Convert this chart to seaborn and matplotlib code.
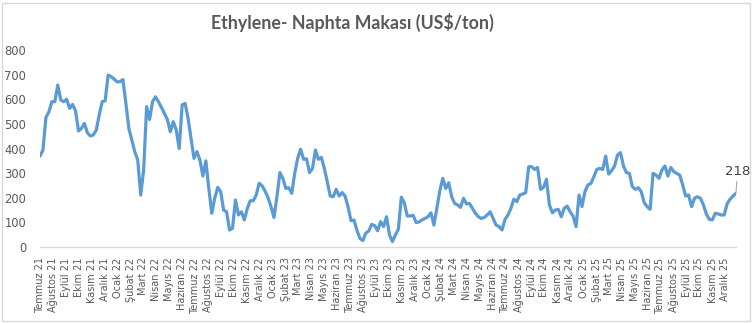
import matplotlib
matplotlib.use("Agg")
import matplotlib.pyplot as plt
import matplotlib.dates as mdates
from matplotlib.patches import Rectangle
from matplotlib.ticker import FuncFormatter, MultipleLocator
import numpy as np
import pandas as pd
import seaborn as sns

# Weekly ethylene - naphtha spread, US$/ton
spread_2021 = [369, 394, 526, 549, 590, 590, 658, 597, 590, 600, 563, 579, 553, 471,
               482, 502, 464, 451, 455, 475, 536, 590, 594, 698, 692, 682, 671]
spread_2022 = [671, 680, 583, 482, 434, 387, 353, 211, 313, 570, 518, 590, 610,
               590, 567, 543, 518, 468, 509, 475, 400, 577, 583, 522, 441, 360, 387,
               353, 288, 350, 238, 137, 198, 242, 225, 150, 143, 69, 76, 191, 130,
               143, 110, 157, 188, 188, 211, 259, 248, 227, 200, 164]
spread_2023 = [120, 204, 302, 279, 238, 241, 218, 299, 360, 397, 356, 358, 302, 319,
               394, 356, 364, 319, 265, 207, 204, 234, 207, 221, 207, 164, 107, 110,
               69, 35, 26, 56, 65, 92, 87, 66, 103, 83, 123, 49,
               22, 49, 72, 202, 180, 126, 126, 129, 99, 102, 110, 116, 123]
spread_2024 = [139, 89, 157, 229, 279, 238, 261, 204, 177, 171, 161, 198, 175, 177,
               157, 137, 123, 116, 120, 130, 143, 116, 89, 83, 69, 112,
               130, 157, 194, 184, 211, 215, 221, 326, 326, 315, 323, 234, 242, 275,
               171, 139, 150, 153, 123, 157, 166, 143, 125, 83, 211, 164]
spread_2025 = [225, 252, 258, 285, 315, 319, 315, 369, 296, 310, 329, 374, 383, 329,
               302, 299, 245, 234, 241, 225, 180, 164, 153, 299, 292, 279, 313, 329,
               288, 323, 306, 299, 292, 252, 207, 211, 164, 198, 204, 198, 171, 134,
               112, 110, 137, 134, 130, 130, 175, 194, 207, 218]

first_day = "2021-07-01"
last_day = "2025-12-26"
month_names = ["Ocak", "Şubat", "Mart", "Nisan", "Mayıs", "Haziran", "Temmuz",
               "Ağustos", "Eylül", "Ekim", "Kasım", "Aralık"]
title_text = "Ethylene- Naphta Makası (US$/ton)"

values = spread_2021 + spread_2022 + spread_2023 + spread_2024 + spread_2025
dates = pd.date_range(first_day, last_day, periods=len(values))
df = pd.DataFrame({"tarih": dates, "makas": values})

sns.set_style("white")
plt.rcParams["font.family"] = ["Liberation Sans Narrow", "DejaVu Sans"]

grey_text = "#595959"
axis_grey = "#D9D9D9"
line_blue = "#5B9BD5"

W, H = 754, 323
fig = plt.figure(figsize=(W / 100, H / 100), dpi=100)
fig.patch.set_facecolor("white")
ax = fig.add_axes([40 / W, (H - 247) / H, 696 / W, 197 / H])

sns.lineplot(data=df, x="tarih", y="makas", ax=ax, color=line_blue,
             linewidth=2.3, solid_joinstyle="round", solid_capstyle="round")

ax.set_ylim(0, 800)
ax.set_xlim(pd.Timestamp(first_day), pd.Timestamp(last_day))
ax.yaxis.set_major_locator(MultipleLocator(100))
ax.grid(False)

for side in ["left", "top", "right"]:
    ax.spines[side].set_visible(False)
ax.spines["bottom"].set_color(axis_grey)
ax.spines["bottom"].set_linewidth(0.9)

ax.xaxis.set_major_locator(mdates.MonthLocator())


def month_label(x, pos):
    d = mdates.num2date(x)
    return f"{month_names[d.month - 1]} {d.year % 100:02d}"


ax.xaxis.set_major_formatter(FuncFormatter(month_label))
ax.tick_params(axis="x", direction="out", length=3.5, width=0.9, color=axis_grey,
               labelsize=7.0, labelcolor=grey_text, pad=4, rotation=90)
ax.tick_params(axis="y", length=0, labelsize=8.3, labelcolor=grey_text, pad=10)
for lbl in ax.get_xticklabels():
    lbl.set_horizontalalignment("center")
    lbl.set_verticalalignment("top")

ax.set_xlabel("")
ax.set_ylabel("")

# value label on the latest point
ax.annotate(f"{values[-1]}", xy=(dates[-1], values[-1]), xytext=(1, 11),
            textcoords="offset points", ha="center", va="bottom",
            fontsize=9.5, color="#404040",
            arrowprops=dict(arrowstyle="-", color="#A6A6A6", lw=0.75,
                            shrinkA=0, shrinkB=0))

fig.text(352 / W, 1 - 22 / H, title_text, ha="center", va="center",
         fontsize=12.8, fontweight="bold", color=grey_text,
         family=["Lato", "DejaVu Sans"])

fig.patches.append(Rectangle((2 / W, 2 / H), 748 / W, 318 / H,
                             transform=fig.transFigure, fill=False,
                             edgecolor=axis_grey, linewidth=1))

fig.savefig("out.png", dpi=100, facecolor="white")
